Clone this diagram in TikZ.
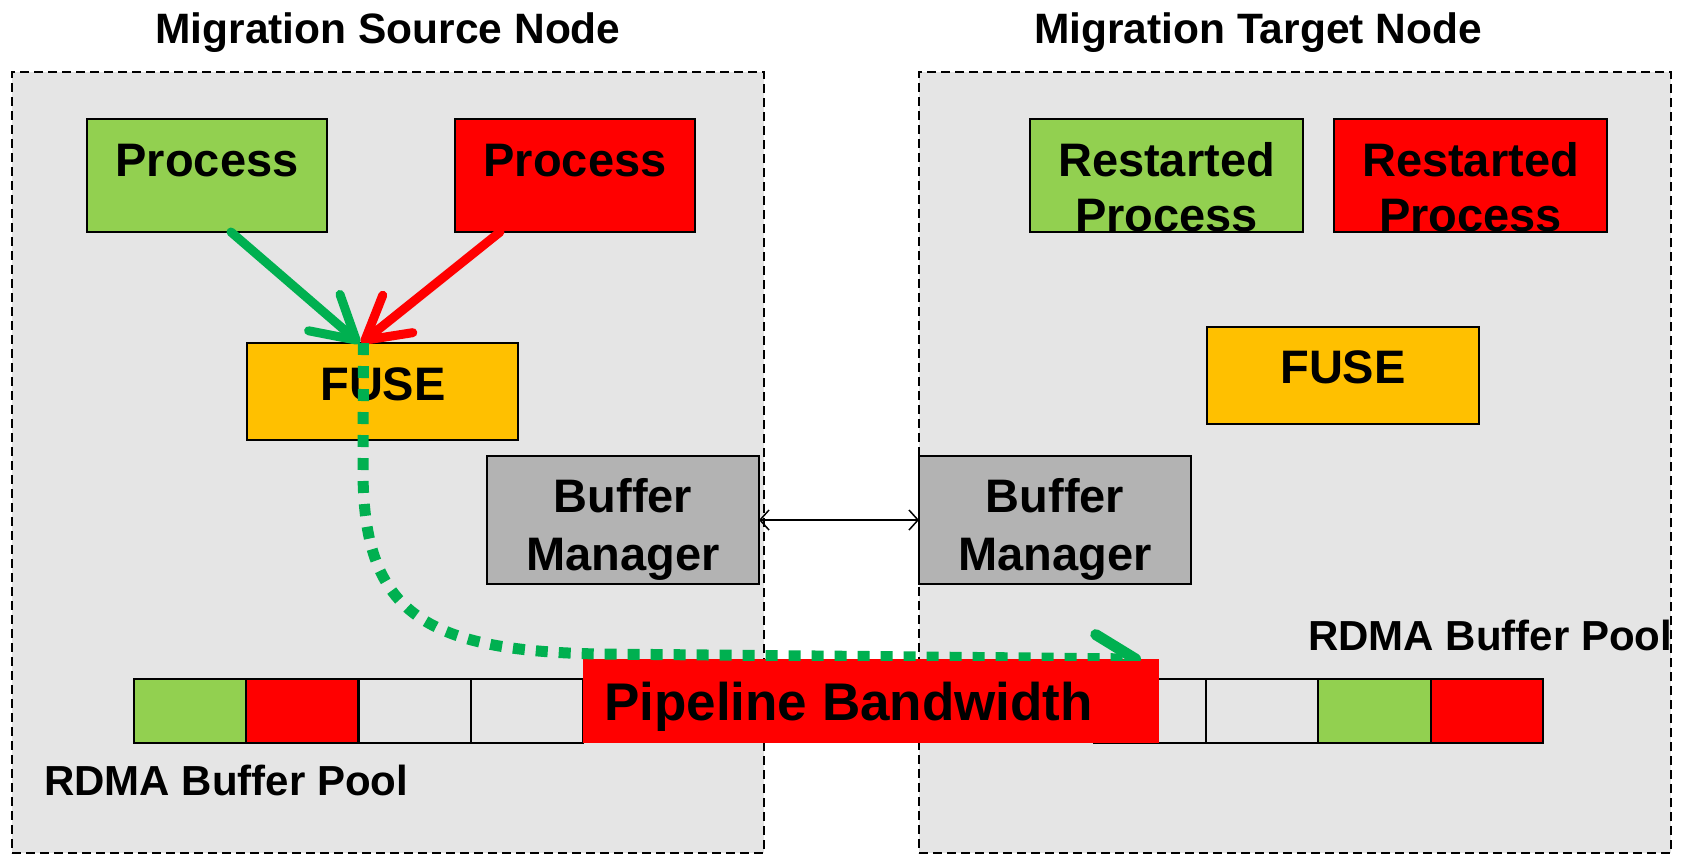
\documentclass[tikz,border=0pt]{standalone}
\usepackage{fontspec}
\setmainfont{Liberation Sans}
\usetikzlibrary{arrows.meta,calc}
\definecolor{bggray}{HTML}{E5E5E5}
\definecolor{pgreen}{HTML}{92D050}
\definecolor{pred}{HTML}{FF0000}
\definecolor{porange}{HTML}{FFC000}
\definecolor{pgray}{HTML}{B3B3B3}
\definecolor{agreen}{HTML}{00B050}
\begin{document}
\begin{tikzpicture}[x=1pt,y=-1pt,
  hostbox/.style={draw=black, fill=bggray, line width=1.5pt, dash pattern=on 9pt off 5pt, inner sep=0pt, outer sep=0pt},
  box/.style={draw=black, line width=2pt, inner sep=0pt, outer sep=0pt},
  cell/.style={draw=black, line width=2pt, inner sep=0pt, outer sep=0pt, minimum width=112.25pt, minimum height=64pt},
  txt/.style={font=\bfseries\fontsize{47}{56}\selectfont, inner sep=0pt, anchor=base},
  ttl/.style={font=\bfseries\fontsize{42.5}{50}\selectfont, inner sep=0pt, anchor=base},
  pooltxt/.style={font=\bfseries\fontsize{42}{50}\selectfont, inner sep=0pt, anchor=base west},
  bigarrow/.style={line width=9pt, line cap=round, -{Straight Barb[length=42pt,width=48pt,round]}},
  flow/.style={agreen, line width=11pt, dash pattern=on 12pt off 11pt, -{Straight Barb[length=40pt,width=48pt,round]}},
  link/.style={line width=1.5pt, {Straight Barb[length=9pt,width=20pt]}-{Straight Barb[length=9pt,width=20pt]}}
]
\useasboundingbox (0,0) rectangle (1684,855);
\fill[white] (0,0) rectangle (1684,855);

% host boxes
\node[hostbox, minimum width=752pt, minimum height=781pt] (src) at (388,462.5) {};
\node[hostbox, minimum width=752pt, minimum height=781pt] (tgt) at (1295,462.5) {};

% titles
\node[ttl] (srct) at (388,43) {Migration Source Node};
\node[ttl] (tgtt) at (1258,43) {Migration Target Node};

% source node boxes
\node[box, fill=pgreen, minimum width=240pt, minimum height=113pt] (gp) at (207,175.5) {};
\node[txt] (gpt) at (207,176) {Process};
\node[box, fill=pred, minimum width=240pt, minimum height=113pt] (rp) at (575,175.5) {};
\node[txt] (rpt) at (575,176) {Process};
\node[box, fill=porange, minimum width=271pt, minimum height=97pt] (fuseS) at (382.5,391.5) {};
\node[txt] (fuseSt) at (383,400) {FUSE};
\node[box, fill=pgray, minimum width=272pt, minimum height=128pt] (bmS) at (623,520) {};
\node[txt] (bmSt1) at (623,512) {Buffer};
\node[txt] (bmSt2) at (623,570) {Manager};

% target node boxes
\node[box, fill=pgreen, minimum width=273pt, minimum height=113pt] (gr) at (1166.5,175.5) {};
\node[txt] (grt1) at (1166.5,176) {Restarted};
\node[txt] (grt2) at (1166.5,231) {Process};
\node[box, fill=pred, minimum width=273pt, minimum height=113pt] (rr) at (1470.5,175.5) {};
\node[txt] (rrt1) at (1470.5,176) {Restarted};
\node[txt] (rrt2) at (1470.5,231) {Process};
\node[box, fill=porange, minimum width=272pt, minimum height=97pt] (fuseT) at (1343,375.5) {};
\node[txt] (fuseTt) at (1343,383) {FUSE};
\node[box, fill=pgray, minimum width=272pt, minimum height=128pt] (bmT) at (1055,520) {};
\node[txt] (bmTt1) at (1055,512) {Buffer};
\node[txt] (bmTt2) at (1055,570) {Manager};

% buffer pools
\node[cell, fill=pgreen] (c1) at (190.1,711) {};
\node[cell, fill=pred] (c2) at (302.4,711) {};
\node[cell] (c3) at (414.6,711) {};
\node[cell] (c4) at (526.9,711) {};
\node[pooltxt] (poolS) at (44,795) {RDMA Buffer Pool};

\node[cell] (d1) at (1150.1,711) {};
\node[cell] (d2) at (1262.4,711) {};
\node[cell, fill=pgreen] (d3) at (1374.6,711) {};
\node[cell, fill=pred] (d4) at (1486.9,711) {};
\node[pooltxt] (poolT) at (1308,650) {RDMA Buffer Pool};

% connectors
\draw[bigarrow, agreen] ([xshift=24pt]gp.south) -- ([xshift=-23pt]fuseS.north);
\draw[bigarrow, pred] ([xshift=-75pt]rp.south) -- ([xshift=-21pt]fuseS.north);
\draw[link] (bmS.east) -- (bmT.west);

% pipeline rect (drawn over the flow)
\node[fill=pred, inner sep=0pt, outer sep=0pt, minimum width=576pt, minimum height=84pt] (pipe) at (871,701) {};
\draw[flow] ([xshift=-19pt]fuseS.north) -- (363,470) .. controls (363,610) and (420,651) .. (600,654) -- ([xshift=-18pt]pipe.north east);
\fill[pred] (pipe.north west) ++(0,2) rectangle (pipe.south east);
\node[font=\bfseries\fontsize{53}{60}\selectfont, inner sep=0pt, anchor=base west] (pipet) at (604,720) {Pipeline Bandwidth};
\end{tikzpicture}
\end{document}
